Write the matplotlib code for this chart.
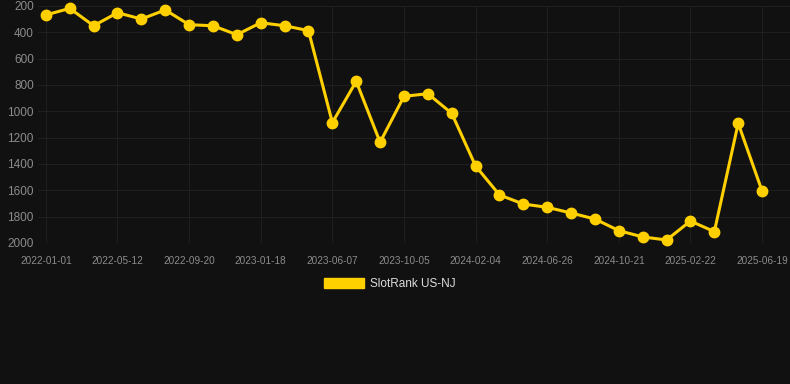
import numpy as np
import matplotlib
matplotlib.use('Agg')
import matplotlib.pyplot as plt
from matplotlib.patches import Patch

# tick labels shown on the x axis (every third data point)
tick_dates = ['2022-01-01', '2022-05-12', '2022-09-20', '2023-01-18', '2023-06-07',
              '2023-10-05', '2024-02-04', '2024-06-26', '2024-10-21', '2025-02-22',
              '2025-06-19']

# rank values, one per point
rank = [268, 218, 350, 251, 299, 230, 342, 350, 418, 327, 350, 387,
        1086, 772, 1235, 886, 866, 1015, 1415, 1635, 1704, 1729, 1772,
        1818, 1906, 1954, 1977, 1833, 1914, 1091, 1605]

y_ticks = [200, 400, 600, 800, 1000, 1200, 1400, 1600, 1800, 2000]
series_name = 'SlotRank US-NJ'

bg = '#111111'
gold = '#ffd000'
tick_col = '#8c8c8c'

plt.rcParams['font.family'] = ['Liberation Sans', 'DejaVu Sans']

fig = plt.figure(figsize=(7.9, 3.84), dpi=100, facecolor=bg)
ax = fig.add_axes([38/790, 1 - 243/384, 1 - 38/790, (243 - 6)/384], facecolor=bg)

x = np.arange(len(rank))
ax.plot(x, rank, color=gold, lw=2.2, marker='o', ms=7.5, zorder=3,
        solid_joinstyle='round', clip_on=False)

ax.set_ylim(2000, 200)
ax.set_yticks(y_ticks)
ax.set_xlim(-0.33, 31.17)
ax.set_xticks(x[::3])
ax.set_xticklabels(tick_dates)

ax.grid(True, color='#1f1f1f', lw=0.8)
ax.set_axisbelow(True)
for s in ax.spines.values():
    s.set_visible(False)
ax.tick_params(axis='y', length=0, pad=3, labelsize=8.5, labelcolor=tick_col)
ax.tick_params(axis='x', length=0, pad=9, labelsize=7.2, labelcolor=tick_col)

handle = Patch(facecolor=gold, edgecolor=gold, label=series_name)
fig.legend(handles=[handle], loc='center', bbox_to_anchor=(390/790, 1 - 284/384),
           frameon=False, fontsize=8.5, labelcolor='#dddddd',
           handlelength=3.4, handleheight=1.0, handletextpad=0.5)

fig.savefig('out.png', dpi=100, facecolor=bg)
